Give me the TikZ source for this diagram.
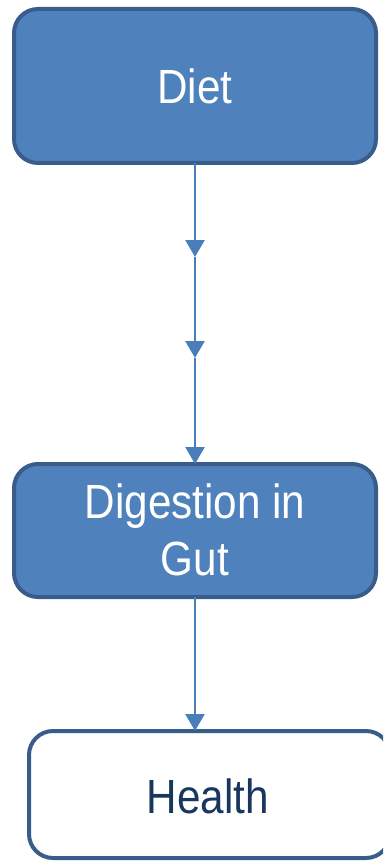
\documentclass[tikz,border=0pt]{standalone}
\usepackage{fontspec}
\setmainfont[FakeStretch=0.88]{Liberation Sans}
\usetikzlibrary{arrows.meta}
\definecolor{boxfill}{HTML}{4F81BD}
\definecolor{boxline}{HTML}{385D8A}
\definecolor{arrowcol}{HTML}{4A7EBB}
\definecolor{darktext}{HTML}{17375E}
\tikzset{
  flowbox/.style={draw=boxline, line width=4pt, rounded corners=24pt},
  filledbox/.style={flowbox, fill=boxfill},
  boxtext/.style={font=\fontsize{48}{57}\selectfont, align=center, inner sep=0pt},
  flowarrow/.style={draw=arrowcol, line width=2.6pt, -{Triangle[length=17pt,width=19pt]}}
}
\begin{document}
\begin{tikzpicture}[x=1pt,y=-1pt]
\useasboundingbox (0,0) rectangle (383,861);
\begin{scope}
\clip (0,0) rectangle (383,861);
\draw[filledbox] (14,9) rectangle (376,163);
\draw[filledbox] (14,464) rectangle (376,597);
\draw[flowbox, fill=white] (29,731) rectangle (390,858);
\end{scope}
\coordinate (dietb) at (195,163);
\coordinate (c1) at (195,257);
\coordinate (c2) at (195,358);
\coordinate (digt) at (195,464);
\coordinate (digb) at (195,597);
\coordinate (healt) at (195,731);
\node[boxtext, text=white] (diet) at (195,86) {Diet};
\node[boxtext, text=white] (dig) at (195,530) {Digestion in\\Gut};
\node[boxtext, text=darktext] (health) at (208,796) {Health};
\draw[flowarrow] (dietb) -- (c1);
\draw[flowarrow] (c1) -- (c2);
\draw[flowarrow] (c2) -- (digt);
\draw[flowarrow] (digb) -- (healt);
\end{tikzpicture}
\end{document}
